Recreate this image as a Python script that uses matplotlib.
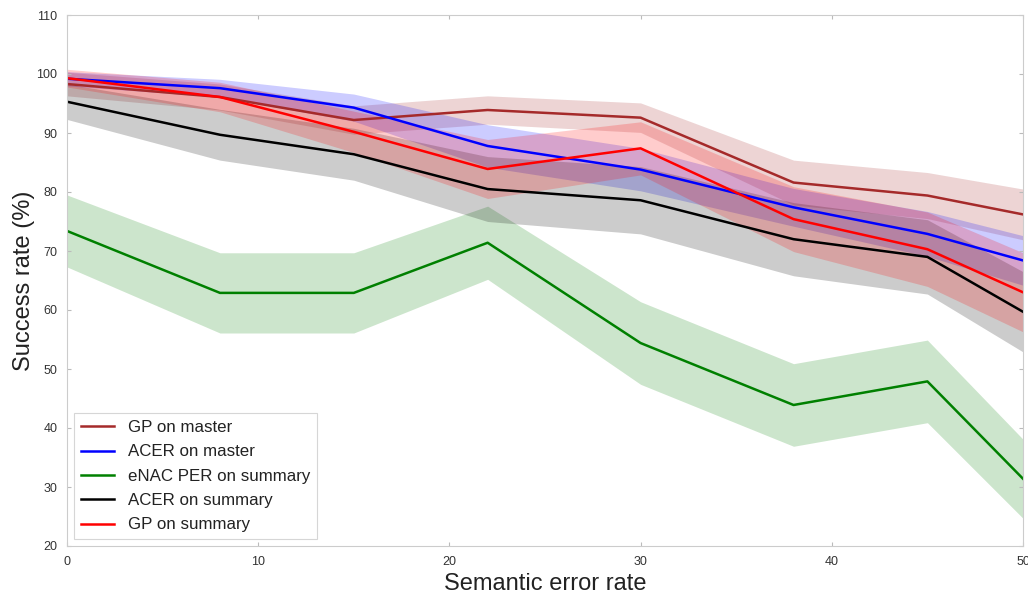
import numpy as np
import matplotlib.pyplot as plt

plt.rcParams['font.family'] = ['Liberation Sans', 'DejaVu Sans']

# Semantic error rate (x) and success rates (y) with band half-widths
error_rate = [0, 8, 15, 22, 30, 38, 45, 50]

gp_master = [98.3, 96.1, 92.2, 93.9, 92.6, 81.6, 79.4, 76.2]
gp_master_sd = [2.0, 2.2, 2.4, 2.4, 2.5, 3.8, 3.9, 4.3]

acer_master = [99.2, 97.6, 94.3, 87.8, 83.8, 77.4, 72.9, 68.4]
acer_master_sd = [1.2, 1.5, 2.3, 3.6, 3.6, 3.2, 3.8, 4.2]

enac_summary = [73.4, 62.9, 62.9, 71.4, 54.4, 43.9, 47.9, 31.4]
enac_summary_sd = [6.1, 6.8, 6.8, 6.2, 7.0, 7.0, 7.0, 6.7]

acer_summary = [95.3, 89.7, 86.4, 80.5, 78.6, 72.0, 69.0, 59.7]
acer_summary_sd = [3.0, 4.3, 4.4, 5.5, 5.7, 6.2, 6.3, 6.8]

gp_summary = [99.3, 96.1, 90.2, 83.9, 87.4, 75.4, 70.3, 63.0]
gp_summary_sd = [1.5, 2.5, 3.5, 5.0, 4.5, 5.5, 6.3, 6.7]

series = [
    ('GP on master', gp_master, gp_master_sd, 'brown'),
    ('ACER on master', acer_master, acer_master_sd, 'blue'),
    ('eNAC PER on summary', enac_summary, enac_summary_sd, 'green'),
    ('ACER on summary', acer_summary, acer_summary_sd, 'black'),
    ('GP on summary', gp_summary, gp_summary_sd, 'red'),
]

fig, ax = plt.subplots(figsize=(10.28, 5.94), dpi=100)
fig.subplots_adjust(left=67/1028, right=1023/1028, top=1-15/594, bottom=1-546/594)

x = np.array(error_rate)
for label, mean, sd, color in series:
    mean = np.array(mean)
    sd = np.array(sd)
    ax.plot(x, mean, color=color, lw=1.8, label=label)
    ax.fill_between(x, mean - sd, mean + sd, color=color, alpha=0.2, lw=0)

ax.set_xlim(0, 50)
ax.set_ylim(20, 110)
ax.set_xticks(range(0, 51, 10))
ax.set_yticks(range(20, 111, 10))
ax.set_xlabel('Semantic error rate', fontsize=17, color='#222222', labelpad=4)
ax.set_ylabel('Success rate (%)', fontsize=17, color='#222222', labelpad=1)
ax.tick_params(direction='in', length=3, color='#bbbbbb', top=True, right=True,
               labelsize=9, labelcolor='#333333', pad=7)
for s in ax.spines.values():
    s.set_color('#cccccc')

leg = ax.legend(loc='lower left', fontsize=12.2, frameon=True, fancybox=False,
                handlelength=2.0, borderaxespad=0.4, labelspacing=0.55)
leg.get_frame().set_edgecolor('#cccccc')
leg.get_frame().set_linewidth(0.8)
for t in leg.get_texts():
    t.set_color('#222222')

fig.savefig('out.png', dpi=100)
